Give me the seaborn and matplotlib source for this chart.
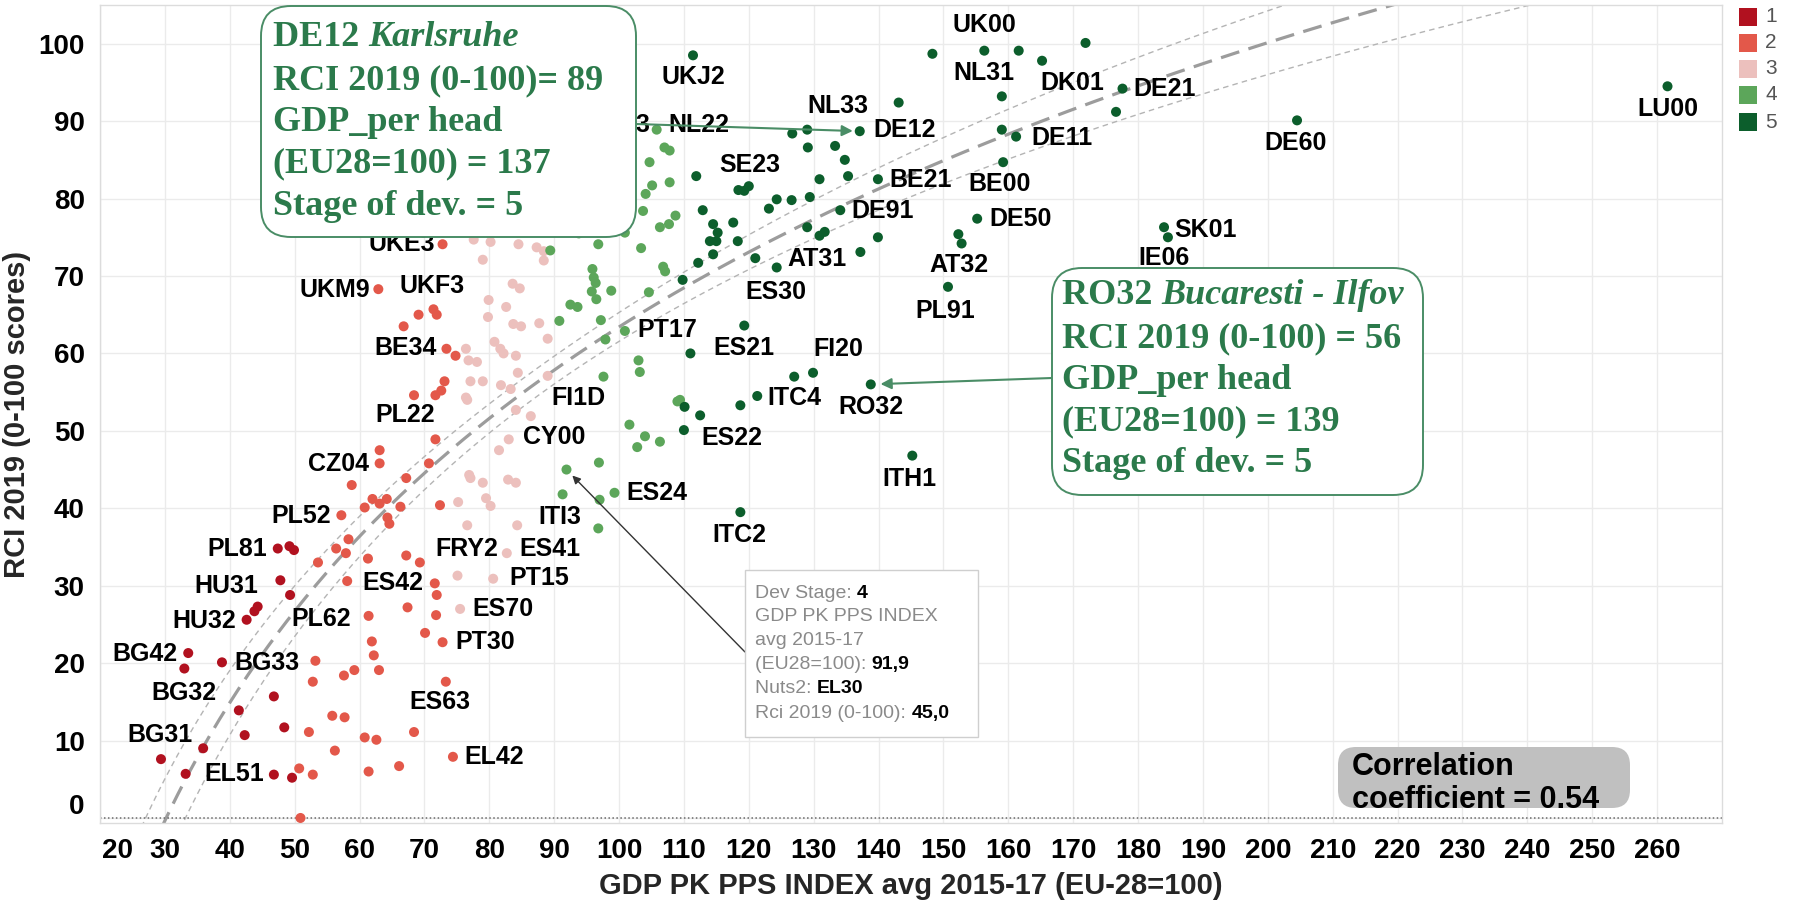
import numpy as np
import pandas as pd
import matplotlib
matplotlib.use("Agg")
import matplotlib.pyplot as plt
import seaborn as sns
from matplotlib.patches import FancyBboxPatch, Rectangle
from matplotlib.transforms import IdentityTransform, ScaledTranslation

# ---------------- data ----------------
s1_gdp = [29.4, 33.2, 33.0, 33.6, 35.9, 38.8, 41.4, 42.3, 42.6, 43.8, 44.3, 46.8, 46.8, 48.4, 49.6,
          47.4, 49.2, 49.9, 47.8, 49.3]
s1_rci = [7.6, 5.7, 19.3, 21.3, 9.0, 20.1, 13.9, 10.7, 25.6, 26.7, 27.3, 15.7, 5.6, 11.7, 5.2,
          34.8, 35.1, 34.6, 30.7, 28.8]
s1_nuts = ["BG31", "EL51", "BG32", "BG42", "", "BG33", "", "", "HU32", "", "", "", "", "", "",
           "PL81", "", "", "HU31", ""]

s2_gdp = [50.9, 50.7, 52.8, 61.4, 66.1, 74.4, 56.2, 60.8, 62.6, 52.2, 68.4, 55.8, 57.7, 52.8, 57.6,
          73.3, 59.2, 63.0, 53.2, 62.2, 61.9, 72.8, 70.1, 61.4, 67.4, 71.8, 71.9, 71.6, 58.1, 53.6,
          61.3, 67.2, 69.3, 56.4, 57.9, 58.3, 57.2, 64.3, 64.6, 60.8, 62.0, 63.1, 64.2, 66.3, 72.4,
          58.8, 67.2, 63.1, 63.1, 70.7, 71.7, 68.4, 71.7, 72.6, 73.1, 73.4, 74.8, 66.8, 69.1, 71.4,
          71.9, 62.9, 72.8]
s2_rci = [0.0, 6.4, 5.6, 6.0, 6.7, 7.9, 8.7, 10.4, 10.1, 11.1, 11.1, 13.2, 13.0, 17.6, 18.4,
          17.6, 19.1, 19.1, 20.3, 21.0, 22.8, 22.7, 23.9, 26.1, 27.2, 26.2, 28.8, 30.3, 30.6, 33.0,
          33.5, 33.9, 33.0, 34.8, 34.2, 36.0, 39.1, 38.8, 38.0, 40.1, 41.2, 40.6, 41.2, 40.2, 40.4,
          43.0, 43.9, 45.8, 47.5, 45.8, 48.9, 54.6, 54.6, 55.2, 56.4, 60.6, 59.7, 63.5, 65.0, 65.7,
          65.0, 68.3, 74.1]
s2_nuts = ["", "", "", "", "", "EL42", "", "", "", "", "", "", "", "", "",
           "ES63", "", "", "", "", "", "PT30", "", "PL62", "", "", "", "ES42", "", "",
           "", "", "FRY2", "", "", "", "PL52", "", "", "", "", "", "", "", "",
           "", "", "CZ04", "", "", "", "PL22", "", "", "", "BE34", "", "", "", "UKF3",
           "", "UKM9", "UKE3"]

s3_gdp = [75.5, 75.1, 80.6, 82.7, 76.6, 84.3, 75.2, 79.5, 80.2, 76.9, 77.1, 79.0, 82.9, 84.1, 81.5,
          83.0, 86.4, 84.1, 76.4, 76.6, 81.8, 83.3, 77.1, 79.0, 84.4, 89.0, 76.8, 78.1, 82.2, 84.1,
          76.4, 80.8, 81.7, 89.0, 79.8, 83.7, 84.9, 87.7, 79.9, 82.6, 83.6, 84.7, 79.0, 88.4, 77.6,
          80.2, 84.5, 87.3, 88.4]
s3_rci = [27.0, 31.3, 30.9, 34.2, 37.8, 37.8, 40.8, 41.3, 40.3, 44.3, 43.9, 43.3, 43.7, 43.3, 47.5,
          48.9, 51.9, 52.7, 54.3, 54.0, 55.9, 55.4, 56.4, 56.4, 57.5, 57.1, 59.1, 58.9, 60.0, 59.7,
          60.6, 61.5, 60.6, 61.9, 64.7, 63.8, 63.5, 63.9, 66.9, 66.0, 69.0, 68.4, 72.1, 72.0, 74.7,
          74.4, 74.1, 73.7, 73.2]
s3_nuts = ["ES70", "", "PT15", "ES41", "", "", "", "", "", "", "", "", "", "", "",
           "CY00", "", "", "", "", "", "", "", "", "", "", "", "", "", "",
           "", "", "", "", "", "", "", "", "", "", "", "", "", "", "",
           "", "", "", ""]

s4_gdp = [91.3, 97.0, 99.3, 96.8, 91.9, 96.9, 101.6, 104.0, 102.8, 106.3, 109.0, 109.4, 97.6, 103.0,
          103.2, 97.9, 100.9, 90.8, 97.2, 92.5, 93.6, 96.5, 95.8, 96.4, 96.1, 95.9, 98.8, 104.6,
          106.8, 107.1, 89.4, 93.8, 96.8, 100.9, 103.4, 106.3, 107.7, 108.7, 103.7, 105.1, 104.1,
          107.8, 104.7, 107.0, 107.8, 105.8, 93.0]
s4_rci = [41.8, 41.1, 42.0, 37.4, 45.0, 45.9, 50.8, 49.3, 47.9, 48.6, 53.8, 54.0, 57.0, 59.1,
          57.6, 61.8, 62.9, 64.2, 64.3, 66.3, 66.0, 67.0, 68.0, 69.1, 69.8, 70.9, 68.1, 67.9,
          71.2, 70.6, 73.3, 75.5, 74.1, 75.6, 73.6, 76.3, 76.7, 77.8, 78.4, 81.7, 80.6,
          82.1, 84.7, 86.6, 86.2, 88.9, 89.5]
s4_nuts = ["ITI3", "", "ES24", "", "EL30", "", "", "", "", "", "", "", "FI1D", "",
           "", "", "PT17", "", "", "", "", "", "", "", "", "", "", "",
           "", "", "", "", "", "", "", "", "", "", "", "", "",
           "", "", "", "", "NL22", "UKH3"]

s5_gdp = [111.4, 148.3, 156.3, 161.6, 171.9, 165.2, 159.0, 177.6, 176.6, 143.1, 126.7, 129.0, 137.1,
          129.1, 133.3, 134.8, 159.0, 161.2, 159.2, 139.9, 130.9, 135.3, 118.4, 120.0, 119.3, 111.9,
          112.9, 123.1, 124.3, 126.6, 129.4, 134.1, 114.5, 115.2, 114.0, 115.0, 117.6, 118.3, 129.0,
          130.9, 131.7, 139.9, 137.2, 114.5, 112.2, 109.8, 121.0, 124.3, 155.2, 152.3, 152.8, 150.7,
          184.0, 184.6, 204.5, 261.6, 119.3, 111.0, 129.9, 127.0, 121.3, 118.7, 110.1, 112.5, 110.0,
          138.8, 145.2, 118.7, 212.0]
s5_rci = [98.5, 98.7, 99.1, 99.1, 100.1, 97.8, 93.2, 94.2, 91.2, 92.4, 88.4, 88.9, 88.7,
          86.6, 86.8, 85.0, 88.9, 88.0, 84.7, 82.5, 82.5, 82.9, 81.1, 81.6, 81.0, 82.9,
          78.5, 78.7, 79.9, 79.8, 80.2, 78.5, 76.7, 75.6, 74.5, 74.5, 76.9, 74.5, 76.3,
          75.2, 75.7, 75.0, 73.1, 72.8, 71.7, 69.5, 72.3, 71.1, 77.4, 75.4, 74.2, 68.6,
          76.3, 75.0, 90.1, 94.5, 63.6, 60.0, 57.5, 57.0, 54.5, 53.3, 53.1, 52.0, 50.1,
          56.0, 46.8, 39.5, 62.5]
s5_nuts = ["UKJ2", "", "UK00", "", "", "DK01", "NL31", "DE21", "", "NL33", "", "", "DE12",
           "", "", "", "", "DE11", "BE00", "BE21", "", "", "SE23", "", "", "",
           "", "", "", "", "", "DE91", "", "", "", "", "", "", "",
           "", "", "", "AT31", "", "", "", "", "ES30", "DE50", "", "AT32", "PL91",
           "SK01", "IE06", "DE60", "LU00", "", "ES21", "FI20", "", "ITC4", "", "", "", "ES22",
           "RO32", "ITH1", "ITC2", "IE05"]

stages = ["1", "2", "3", "4", "5"]
stage_colors = {"1": "#b1111f", "2": "#e3584a", "3": "#ecc0bd", "4": "#5ca65a", "5": "#0c5e2c"}

# logarithmic trend line with confidence band
trend_slope = 52.97
trend_x0 = 30.2          # GDP where the trend crosses RCI = 0
band_min = 1.8           # narrowest half-width of the band
band_curv = 21.5
band_center = 90.0       # GDP where the band is narrowest

correlation_text = "0.54"

# ---------------- style / layout ----------------
W, H = 1797, 908
sns.set_theme(style="white")
plt.rcParams["font.family"] = ["Liberation Sans", "DejaVu Sans"]
SERIF = ["Liberation Serif", "DejaVu Serif"]
GREEN = "#2b7a4b"
GREEN_EDGE = "#4a8d66"

label_offsets = {
    "UK00": (0, 18.2), "UKJ2": (0, -15.7), "NL33": (-43.7, -2.5), "NL22": (30.5, 3.3),
    "UKH3": (30.5, 0), "DE12": (32.2, 0.8), "NL31": (-13.2, 16.5), "DK01": (21.5, -15.7),
    "DE21": (30.5, 0), "DE11": (33.0, -0.8), "DE60": (-0.8, -16.5), "LU00": (0, -16.5),
    "SE23": (8.3, 18.2), "BE21": (30.5, -0.8), "BE00": (-2.5, -15.7), "DE91": (30.5, -0.8),
    "DE50": (31.4, 0), "SK01": (29.7, -1.7), "IE06": (-2.5, -14.6), "AT31": (-31.4, -5.0),
    "AT32": (-1.7, -15.7), "ES30": (-0.8, -17.3), "PL91": (-1.7, -17.3), "UKE3": (-29.7, 0),
    "UKM9": (-31.4, -0.8), "UKF3": (-0.8, 16.9), "BE34": (-29.7, 0.8), "PT17": (30.5, 0.8),
    "ES21": (38.8, 4.1), "FI20": (18.2, 17.3), "RO32": (0, -16.5), "ITC4": (26.4, -1.6),
    "FI1D": (-17.7, -15.4), "PL22": (-6.6, -14.0), "CY00": (33.0, 1.7), "ES22": (34.7, -5.8),
    "ITH1": (-1.7, -16.5), "CZ04": (-29.7, -0.8), "ES24": (30.5, 0), "ITI3": (-1.7, -16.5),
    "PL52": (-28.9, -0.8), "ITC2": (-0.8, -16.5), "PL81": (-28.9, 0), "FRY2": (33.8, 9.9),
    "ES41": (31.4, 3.3), "HU31": (-38.8, -4.1), "ES42": (-30.5, 0), "PT15": (33.0, 0.8),
    "ES70": (30.5, 0), "HU32": (-30.5, -0.8), "PL62": (-33.8, -2.5), "PT30": (30.5, 0),
    "BG42": (-31.4, -0.8), "BG33": (32.2, -0.8), "BG32": (0, -17.3), "ES63": (-4.1, -14.9),
    "BG31": (-0.8, 17.3), "EL51": (34.7, 0), "EL42": (29.7, 0), "IE05": (33.0, 0),
}

# ---------------- frame ----------------
df = pd.DataFrame({
    "gdp": s1_gdp + s2_gdp + s3_gdp + s4_gdp + s5_gdp,
    "rci": s1_rci + s2_rci + s3_rci + s4_rci + s5_rci,
    "nuts": s1_nuts + s2_nuts + s3_nuts + s4_nuts + s5_nuts,
    "stage": ["1"] * len(s1_gdp) + ["2"] * len(s2_gdp) + ["3"] * len(s3_gdp)
             + ["4"] * len(s4_gdp) + ["5"] * len(s5_gdp),
})

fig = plt.figure(figsize=(W / 100, H / 100), dpi=100)
ax = fig.add_axes([100 / W, 1 - 823 / H, 1622 / W, 818 / H])

# trend line and band
xs = np.linspace(24, 272, 500)
u = np.log(xs)
fit = trend_slope * (u - np.log(trend_x0))
hw = np.sqrt(band_min ** 2 + band_curv * (u - np.log(band_center)) ** 2)
ax.plot(xs, fit, color="#9c9c9c", lw=2.3, ls=(0, (6, 3)), zorder=2)
ax.plot(xs, fit + hw, color="#b4b4b4", lw=1.0, ls=(0, (4, 3)), zorder=2)
ax.plot(xs, fit - hw, color="#b4b4b4", lw=1.0, ls=(0, (4, 3)), zorder=2)

sns.scatterplot(data=df, x="gdp", y="rci", hue="stage", hue_order=stages, palette=stage_colors,
                s=52, linewidth=0, legend=False, ax=ax, zorder=3)

ax.axhline(0, color="#6a6a6a", lw=1.1, ls=(0, (1, 1.6)), zorder=2.5)

for _, r in df.iterrows():
    if r["nuts"] in label_offsets:
        ax.annotate(r["nuts"], (r["gdp"], r["rci"]), xytext=label_offsets[r["nuts"]],
                    textcoords="offset points", ha="center", va="center",
                    fontsize=18, fontweight="bold", color="black", zorder=4)

ax.set_xlim(20, 270)
ax.set_ylim(-0.65, 105)
ax.set_xticks(np.arange(20, 261, 10))
ax.set_yticks(np.arange(0, 101, 10))
ax.grid(True, color="#ebebeb", lw=1)
ax.set_axisbelow(True)
for s in ax.spines.values():
    s.set_color("#dcdcdc")
    s.set_linewidth(1)
ax.tick_params(axis="x", length=6, color="#b0b0b0", width=1, pad=5, labelsize=20)
ax.tick_params(axis="y", length=0, pad=11, labelsize=20)
for lab in ax.get_xticklabels() + ax.get_yticklabels():
    lab.set_fontweight("bold")
    lab.set_color("black")

ax.set_xlabel("GDP PK PPS INDEX avg 2015-17 (EU-28=100)", fontsize=21, fontweight="bold")
ax.set_ylabel("RCI 2019 (0-100 scores)", fontsize=21, fontweight="bold")
ax.xaxis.label.set_va("center")
ax.xaxis.set_label_coords(0.5, (823 - 886) / 818)
ax.yaxis.label.set_va("center")
ax.yaxis.set_label_coords((17 - 100) / 1622, 0.5)

# Tableau nudges the end labels inside
t0 = ax.xaxis.get_major_ticks()[0].label1
t0.set_transform(t0.get_transform() + ScaledTranslation(0.17, 0, fig.dpi_scale_trans))
y0 = ax.yaxis.get_major_ticks()[0].label1
y0.set_transform(y0.get_transform() + ScaledTranslation(0, 0.14, fig.dpi_scale_trans))


def row(name):
    return df[df["nuts"] == name].iloc[0]


de12, ro32, el30 = row("DE12"), row("RO32"), row("EL30")
IDT = IdentityTransform()


def P(x, y):
    return x, H - y


# arrows (drawn inside axes, under the boxes)
ax.annotate("", xy=(de12["gdp"], de12["rci"]), xytext=P(636, 124), textcoords="figure pixels",
            arrowprops=dict(arrowstyle="-|>", color=GREEN_EDGE, lw=1.5, shrinkA=0, shrinkB=5,
                            mutation_scale=16), zorder=4)
ax.annotate("", xy=(ro32["gdp"], ro32["rci"]), xytext=P(1052, 378), textcoords="figure pixels",
            arrowprops=dict(arrowstyle="-|>", color=GREEN_EDGE, lw=1.5, shrinkA=0, shrinkB=7,
                            mutation_scale=16), zorder=4)
ax.annotate("", xy=(el30["gdp"], el30["rci"]), xytext=P(745, 652), textcoords="figure pixels",
            arrowprops=dict(arrowstyle="-|>", color="#333333", lw=1.0, shrinkA=0, shrinkB=6,
                            mutation_scale=12), zorder=4)


def box(x0, y0, x1, y1, fc, ec, lw, rnd):
    style = "round,pad=0,rounding_size=%d" % rnd if rnd else "square,pad=0"
    p = FancyBboxPatch(P(x0, y1), x1 - x0, y1 - y0, boxstyle=style, transform=IDT,
                       fc=fc, ec=ec, lw=lw, zorder=5)
    fig.add_artist(p)


renderer = fig.canvas.get_renderer()


def txt(x, y, parts, size, family, color, default_weight="bold"):
    cx = x
    for s, kw in parts:
        t = fig.text(cx, H - y, s, transform=IDT, fontsize=size, family=family,
                     fontweight=kw.get("weight", default_weight), fontstyle=kw.get("style", "normal"),
                     color=kw.get("color", color), va="baseline", ha="left", zorder=6)
        cx = t.get_window_extent(renderer).x1


# DE12 box
box(261, 6, 636, 237, "white", GREEN_EDGE, 1.4, 30)
lines1 = [
    [("DE12 ", {}), ("Karlsruhe", {"style": "italic"})],
    [("RCI 2019 (0-100)= %d" % round(de12["rci"]), {})],
    [("GDP_per head", {})],
    [("(EU28=100) = %d" % round(de12["gdp"]), {})],
    [("Stage of dev. = %s" % de12["stage"], {})],
]
for yb, parts in zip([46, 89, 131, 172, 215], lines1):
    txt(273, yb, parts, 26, SERIF, GREEN)

# RO32 box
box(1052, 268, 1423, 495, "white", GREEN_EDGE, 1.4, 30)
lines2 = [
    [("RO32 ", {}), ("Bucaresti - Ilfov", {"style": "italic"})],
    [("RCI 2019 (0-100) = %d" % round(ro32["rci"]), {})],
    [("GDP_per head", {})],
    [("(EU28=100) = %d" % round(ro32["gdp"]), {})],
    [("Stage of dev. = %s" % ro32["stage"], {})],
]
for yb, parts in zip([304, 347, 389, 430, 472], lines2):
    txt(1062, yb, parts, 26, SERIF, GREEN)

# tooltip
box(745, 570, 978, 737, "white", "#cfcfcf", 1.0, 0)
GR = "#8a8a8a"
fmt = lambda v: ("%.1f" % v).replace(".", ",")
tip = [
    [("Dev Stage: ", {"weight": "normal"}), (el30["stage"], {"color": "black"})],
    [("GDP PK PPS INDEX", {"weight": "normal"})],
    [("avg 2015-17", {"weight": "normal"})],
    [("(EU28=100): ", {"weight": "normal"}), (fmt(el30["gdp"]), {"color": "black"})],
    [("Nuts2: ", {"weight": "normal"}), (el30["nuts"], {"color": "black"})],
    [("Rci 2019 (0-100): ", {"weight": "normal"}), (fmt(el30["rci"]), {"color": "black"})],
]
for yb, parts in zip([598, 621, 645, 669, 693, 718], tip):
    txt(755, yb, parts, 14, ["Liberation Sans", "DejaVu Sans"], GR)

# correlation box
box(1338, 747, 1630, 808, "#c0c0c0", "none", 0, 18)
txt(1352, 775, [("Correlation", {})], 22, ["Liberation Sans", "DejaVu Sans"], "black")
txt(1352, 808, [("coefficient = " + correlation_text, {})], 22, ["Liberation Sans", "DejaVu Sans"], "black")

# legend
for i, st in enumerate(stages):
    yc = [17, 43, 69, 95, 122][i]
    fig.add_artist(Rectangle(P(1739, yc + 9), 18, 18, transform=IDT, fc=stage_colors[st],
                             ec="none", zorder=5))
    fig.text(1765, H - yc, st, transform=IDT, fontsize=15, color="#555555", va="center",
             ha="left", zorder=6)

fig.savefig("out.png", dpi=100)
